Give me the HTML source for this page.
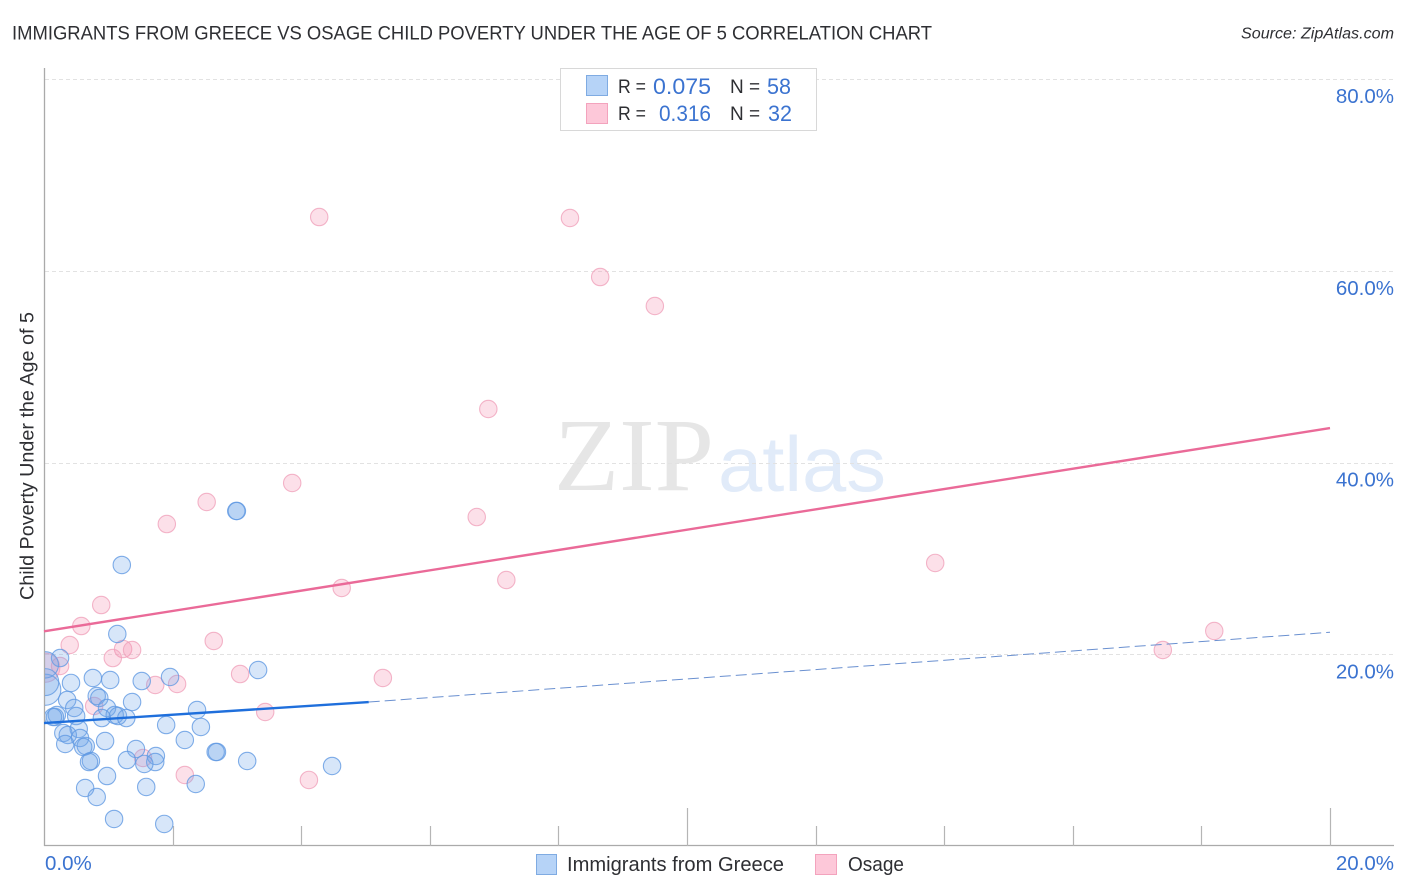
<!DOCTYPE html>
<html lang="en">
<head>
<meta charset="utf-8">
<title>Immigrants from Greece vs Osage Child Poverty Correlation Chart</title>
<style>
html,body{margin:0;padding:0;background:#fff;}
svg{display:block;font-family:"Liberation Sans",sans-serif;}
</style>
</head>
<body>
<svg id="chart" width="1406" height="892" viewBox="0 0 1406 892" xmlns="http://www.w3.org/2000/svg">
  <defs><clipPath id="plot-clip"><rect x="45" y="60" width="1361" height="786"/></clipPath></defs>
  <rect width="1406" height="892" fill="#fff"/>
  <text x="12" y="39.5" font-size="19.5" fill="#2e2f33" textLength="920" lengthAdjust="spacingAndGlyphs">IMMIGRANTS FROM GREECE VS OSAGE CHILD POVERTY UNDER THE AGE OF 5 CORRELATION CHART</text>
  <text x="1241" y="38.5" font-size="15.5" font-style="italic" fill="#2e2f33" textLength="153" lengthAdjust="spacingAndGlyphs">Source: ZipAtlas.com</text>
  <text x="554" y="490" font-family="'Liberation Serif',serif" font-size="104" fill="#e6e6e6" textLength="160" lengthAdjust="spacingAndGlyphs">ZIP</text>
  <text x="718" y="491" font-size="78" fill="#e1ebf9" textLength="168" lengthAdjust="spacingAndGlyphs">atlas</text>
  <g id="grid"></g>
  <g id="axes"></g>
  <text transform="translate(33.5,600) rotate(-90)" font-size="19" fill="#2e2f33" textLength="288" lengthAdjust="spacingAndGlyphs">Child Poverty Under the Age of 5</text>
  <g id="points" clip-path="url(#plot-clip)"></g>
  <g id="trends"></g>

  <g>
    <rect x="560.5" y="68.5" width="256" height="62" fill="#fff" stroke="#d8d8d8"/>
    <rect x="586.5" y="75.5" width="21" height="20" fill="#b6d3f7" stroke="#7fabe2"/>
    <rect x="586.5" y="103.5" width="21" height="20" fill="#fdc8d9" stroke="#f3a3bd"/>
    <text x="618" y="93" font-size="19" fill="#2e2f33" textLength="28" lengthAdjust="spacingAndGlyphs">R =</text>
    <text x="653" y="94" font-size="22" fill="#3b73d0" textLength="58" lengthAdjust="spacingAndGlyphs">0.075</text>
    <text x="730" y="93" font-size="19" fill="#2e2f33">N =</text>
    <text x="767" y="94" font-size="22" fill="#3b73d0" textLength="24" lengthAdjust="spacingAndGlyphs">58</text>
    <text x="618" y="120" font-size="19" fill="#2e2f33" textLength="28" lengthAdjust="spacingAndGlyphs">R =</text>
    <text x="659" y="121" font-size="22" fill="#3b73d0" textLength="52" lengthAdjust="spacingAndGlyphs">0.316</text>
    <text x="730" y="120" font-size="19" fill="#2e2f33">N =</text>
    <text x="768" y="121" font-size="22" fill="#3b73d0" textLength="24" lengthAdjust="spacingAndGlyphs">32</text>
  </g>

  <g>
    <rect x="536.5" y="854.5" width="20" height="20" fill="#b6d3f7" stroke="#7fabe2"/>
    <text x="567" y="871" font-size="20" fill="#2e2f33" textLength="217" lengthAdjust="spacingAndGlyphs">Immigrants from Greece</text>
    <rect x="815.5" y="854.5" width="21" height="20" fill="#fdc8d9" stroke="#f3a3bd"/>
    <text x="848" y="871" font-size="20" fill="#2e2f33" textLength="56" lengthAdjust="spacingAndGlyphs">Osage</text>
  </g>
</svg>
<script>
var yTickValues = [20, 40, 60, 80];
var yTickLabels = ["20.0%", "40.0%", "60.0%", "80.0%"];
var xTickValues = [2, 4, 6, 8, 10, 12, 14, 16, 18, 20];
var xMajorTicks = [10, 20];
var xEndValues = [0, 20];
var xEndLabels = ["0.0%", "20.0%"];

var greeceX = [1.14,0.25,0.02,0.42,0.76,1.03,1.52,1.96,3.33,0.36,0.82,0.86,1.37,0.47,0.98,0.50,0.20,0.17,0.14,2.38,1.10,1.15,1.28,0.90,1.90,2.44,0.54,0.30,0.37,0.56,0.95,2.19,0.33,0.65,0.61,1.43,2.69,2.67,1.74,1.29,1.73,1.56,3.16,4.48,0.73,0.70,0.98,2.36,0.64,1.59,0.82,1.09,1.87,1.21,3.00,2.99,0.02,0.02];
var greeceY = [22.12,19.61,16.30,17.01,17.53,17.32,17.21,17.63,18.36,15.23,15.65,15.44,15.02,14.40,14.40,13.56,13.67,13.46,13.46,14.19,13.67,13.56,13.35,13.35,12.62,12.42,12.21,11.79,11.58,11.27,10.95,11.06,10.64,10.43,10.33,10.12,9.81,9.81,9.39,8.97,8.76,8.56,8.87,8.35,8.87,8.76,7.30,6.47,6.05,6.16,5.11,2.82,2.30,29.32,34.95,34.95,17.10,18.90];
var greeceWeight = [1,1,3.2,1,1,1,1,1,1,1,1,1,1,1,1,1,1,1,1,1,1,1,1,1,1,1,1,1,1,1,1,1,1,1,1,1,1,1,1,1,1,1,1,1,1,1,1,1,1,1,1,1,1,1,1,1,2.4,2.3];

var osageX = [4.28,8.18,8.65,9.50,6.91,3.86,2.53,1.91,6.73,13.86,7.19,4.63,0.89,0.58,0.40,2.64,1.23,1.37,1.07,18.20,17.40,3.05,5.27,1.73,2.07,3.44,0.78,1.54,2.19,4.12,0.25,0.02];
var osageY = [65.62,65.52,59.36,56.34,45.59,37.87,35.89,33.59,34.32,29.53,27.75,26.92,25.14,22.95,20.97,21.39,20.55,20.45,19.61,22.43,20.45,17.94,17.53,16.80,16.90,13.98,14.61,9.18,7.41,6.89,18.78,18.60];
var osageWeight = [1,1,1,1,1,1,1,1,1,1,1,1,1,1,1,1,1,1,1,1,1,1,1,1,1,1,1,1,1,1,1,2.8];

var greeceTrendX = [0, 5.05];
var greeceTrendY = [12.83, 15.02];
var greeceDashX = [5.05, 20];
var greeceDashY = [15.02, 22.3];
var osageTrendX = [0, 20];
var osageTrendY = [22.4, 43.6];

var NS = 'http://www.w3.org/2000/svg';
function xScale(v) { return 44 + v * 64.3; }
function yScale(v) { return 846 - v * 9.585; }
function make(parent, tag, attrs, text) {
  var el = document.createElementNS(NS, tag);
  for (var k in attrs) { el.setAttribute(k, attrs[k]); }
  if (text !== undefined) { el.textContent = text; }
  parent.appendChild(el);
  return el;
}

var grid = document.getElementById('grid');
var axes = document.getElementById('axes');
var pointsLayer = document.getElementById('points');
var trends = document.getElementById('trends');

yTickValues.forEach(function (v, i) {
  var y = Math.round(yScale(v)) + 0.5;
  var line = make(grid, 'line', {x1: 45, x2: 1394, y1: y, y2: y, stroke: '#e2e2e2', 'stroke-width': 1, 'stroke-dasharray': '4 3'});
  
  
  var label = make(axes, 'text', {x: 1394, y: yScale(v) + 24, 'text-anchor': 'end', 'font-size': 20.5, fill: '#3b73d0'}, yTickLabels[i]);
  
  
});

var yAxisLine = make(axes, 'line', {x1: 44.5, x2: 44.5, y1: 68, y2: 846, stroke: '#aaaaaa', 'stroke-width': 1.3});


var xAxisLine = make(axes, 'line', {x1: 44, x2: 1394, y1: 845.5, y2: 845.5, stroke: '#aaaaaa', 'stroke-width': 1.3});



xTickValues.forEach(function (v) {
  var x = Math.round(xScale(v)) + 0.5;
  var top = xMajorTicks.indexOf(v) >= 0 ? 808 : 826;
  var tick = make(axes, 'line', {x1: x, x2: x, y1: top, y2: 846, stroke: '#b5b5b5', 'stroke-width': 1.2});
  
  
});

xEndValues.forEach(function (v, i) {
  var isEnd = i === xEndValues.length - 1;
  var label = make(axes, 'text', {x: isEnd ? 1394 : xScale(v) + 1, y: 870, 'text-anchor': isEnd ? 'end' : 'start', 'font-size': 20.5, fill: '#3b73d0'}, xEndLabels[i]);
  
  
});

function drawSeries(xs, ys, weights, fill, stroke, name) {
  xs.forEach(function (x, i) {
    var c = make(pointsLayer, 'circle', {
      cx: xScale(x), cy: yScale(ys[i]), r: 8.7 * Math.sqrt(weights[i]),
      fill: fill, 'fill-opacity': 0.28, stroke: stroke, 'stroke-opacity': 0.8, 'stroke-width': 1.1
    });
    
    
  });
}
drawSeries(osageX, osageY, osageWeight, '#f48fb1', '#f0a3bc', 'osage-point');
drawSeries(greeceX, greeceY, greeceWeight, '#6ea6ea', '#619ae2', 'greece-point');

function lineBetween(xs, ys, attrs, name) {
  var a = {x1: xScale(xs[0]), y1: yScale(ys[0]), x2: xScale(xs[1]), y2: yScale(ys[1])};
  for (var k in attrs) { a[k] = attrs[k]; }
  var l = make(trends, 'line', a);
  
  
}
lineBetween(greeceDashX, greeceDashY, {stroke: '#6a90d0', 'stroke-width': 1, 'stroke-dasharray': '11 5'}, 'greece-trend-extension');
lineBetween(osageTrendX, osageTrendY, {stroke: '#ea6a98', 'stroke-width': 2.4}, 'osage-trend-line');
lineBetween(greeceTrendX, greeceTrendY, {stroke: '#1f6fdc', 'stroke-width': 2.4}, 'greece-trend-line');
</script>
</body>
</html>
